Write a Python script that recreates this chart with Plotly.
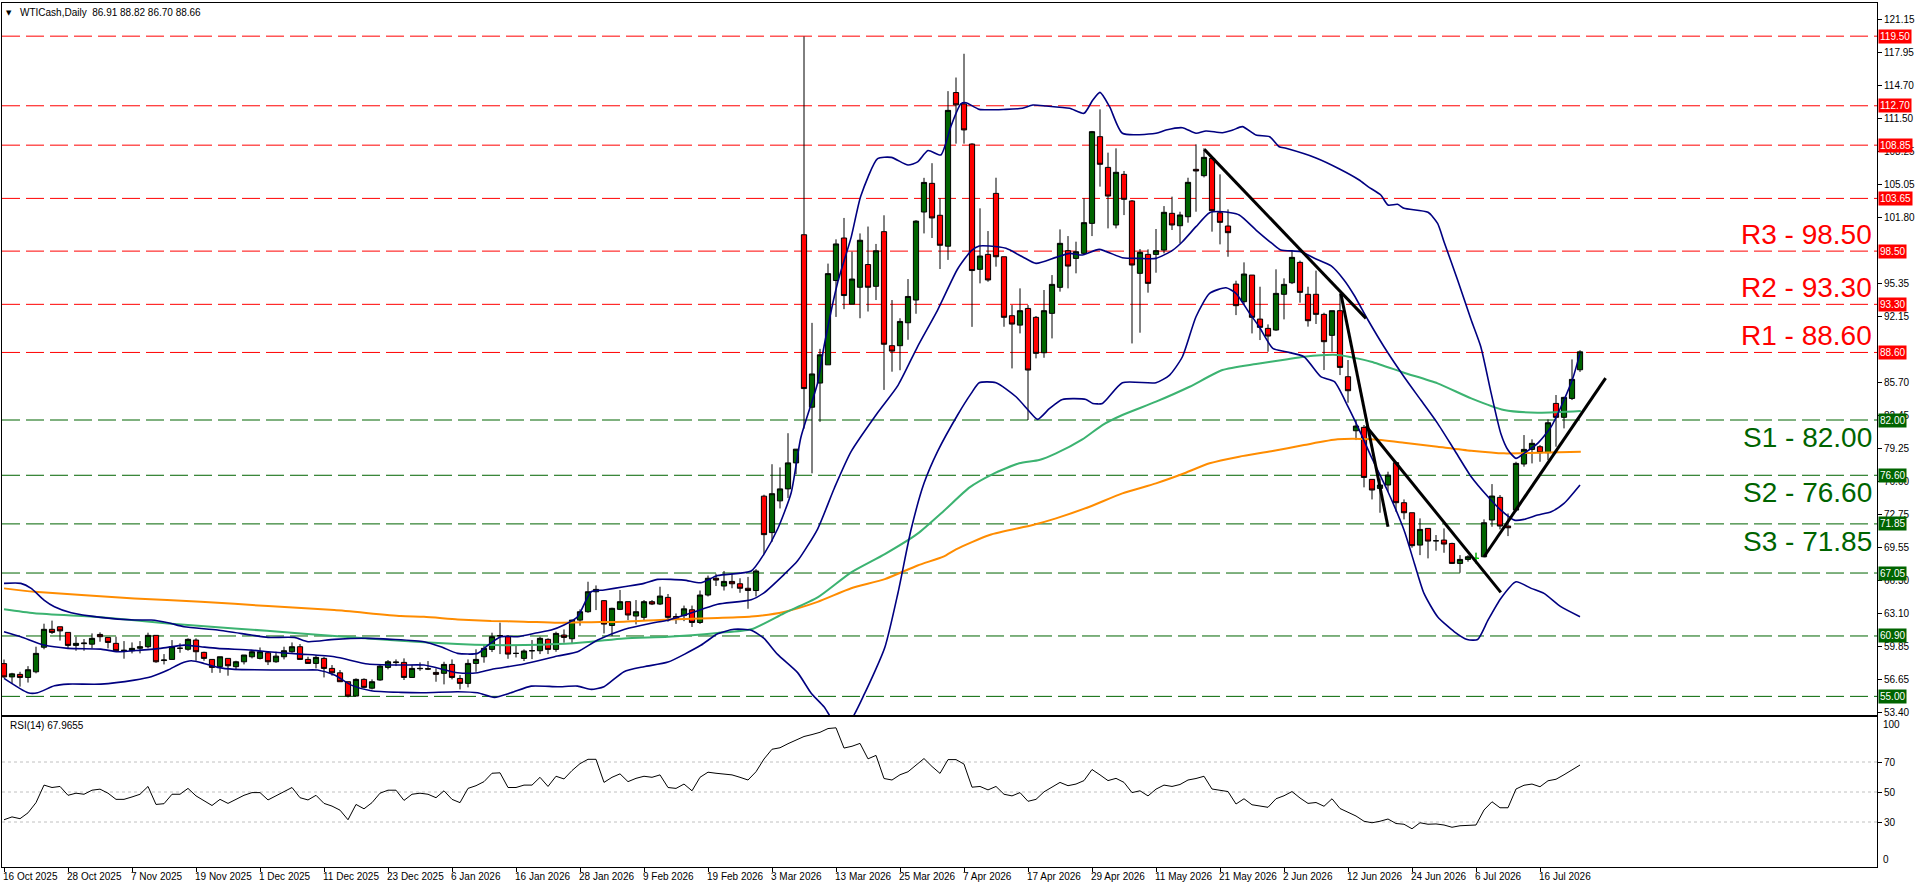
import plotly.graph_objects as go

# ---------------- data ----------------
bars = list(range(198))

opens = [
58.2, 56.9, 57.15, 56.85, 57.4, 59.8, 61.55, 61.8, 61.25, 59.98,
60.15, 60.1, 61.05, 60.76, 60.18, 59.46, 59.46, 59.7, 59.85, 60.96,
58.5, 58.61, 59.7, 59.6, 60.5, 59.3, 58.61, 57.9, 58.71, 57.9,
58.38, 58.87, 58.71, 59.26, 58.38, 58.87, 59.36, 59.85, 58.61, 58.22,
58.71, 57.73, 57.3, 56.43, 55.03, 56.66, 55.8, 56.6, 57.83, 58.3,
58.32, 56.85, 57.7, 57.7, 57.34, 57.25, 58.12, 56.75, 56.27, 58.22,
58.87, 59.59, 60.9, 60.83, 59.2, 58.71, 59.46, 59.46, 60.57, 59.59,
60.99, 60.63, 62.45, 63.27, 65.22, 64.35, 61.93, 63.5, 64.25, 62.85,
62.72, 64.25, 64.02, 64.67, 62.8, 62.89, 63.46, 62.22, 64.9, 66.54,
65.78, 66.23, 66.0, 65.56, 65.34, 74.56, 71.0, 74.1, 75.27, 77.81,
100.1, 83.25, 85.61, 87.39, 95.63, 99.78, 93.32, 94.97, 97.19, 95.06,
100.4, 89.26, 89.26, 91.5, 93.72, 102.32, 105.12, 102.0, 98.98, 113.99,
112.88, 108.96, 96.72, 98.18, 104.14, 97.95, 92.19, 91.27, 92.9, 92.03,
88.57, 92.42, 94.96, 98.54, 97.79, 98.28, 101.21, 109.68, 106.68, 101.05,
106.0, 103.4, 96.33, 98.18, 98.18, 98.6, 102.19, 100.98, 101.86, 106.49,
105.87, 107.56, 102.25, 100.95, 95.28, 93.56, 96.16, 91.86, 90.95, 90.79,
94.28, 95.41, 97.4, 94.28, 94.28, 92.32, 90.27, 92.68, 86.23, 80.95,
81.28, 76.2, 75.32, 75.65, 77.83, 73.92, 72.94, 69.78, 71.41, 70.2,
70.27, 69.94, 67.99, 68.38, 68.48, 68.64, 72.23, 74.44, 71.64, 73.2,
77.7, 79.13, 79.39, 78.81, 83.62, 82.26, 84.11, 86.91]

highs = [
58.6, 57.3, 57.4, 57.95, 59.85, 62.1, 62.4, 61.8, 61.25, 60.83,
60.6, 61.15, 61.25, 60.76, 60.83, 60.4, 60.27, 60.4, 61.22, 60.96,
59.13, 60.5, 60.18, 60.67, 60.67, 59.36, 58.61, 58.87, 58.71, 58.48,
59.04, 59.46, 59.78, 59.36, 59.36, 59.85, 60.27, 60.11, 58.87, 59.04,
58.87, 58.06, 57.57, 56.43, 56.76, 56.76, 56.66, 58.06, 58.55, 58.61,
58.71, 58.06, 58.32, 58.45, 57.73, 58.38, 58.61, 57.08, 58.61, 59.6,
60.11, 61.22, 62.2, 60.99, 59.99, 59.59, 60.5, 60.83, 60.67, 61.32,
61.54, 62.5, 63.5, 66.2, 65.84, 64.41, 63.66, 65.39, 64.25, 64.41,
64.41, 64.41, 65.71, 65.0, 63.1, 63.87, 63.87, 65.34, 66.8, 66.98,
67.25, 66.98, 66.54, 66.67, 67.43, 74.7, 77.68, 77.37, 80.71, 79.15,
119.47, 91.49, 88.95, 97.28, 99.65, 101.74, 98.44, 100.23, 100.9, 99.2,
102.0, 93.72, 91.94, 95.77, 101.52, 105.66, 107.09, 103.65, 114.13, 115.46,
117.78, 109.03, 102.68, 100.46, 105.67, 97.95, 93.23, 94.86, 93.23, 92.16,
94.7, 96.16, 100.62, 99.97, 99.42, 103.66, 110.24, 112.35, 108.12, 108.54,
106.33, 103.49, 98.7, 98.67, 100.66, 102.9, 103.82, 102.35, 105.67, 108.93,
108.54, 107.72, 106.0, 102.58, 95.61, 97.4, 96.16, 95.02, 91.34, 96.72,
95.84, 98.61, 97.57, 95.02, 96.59, 92.48, 92.68, 94.37, 87.86, 81.99,
81.51, 76.2, 76.29, 76.95, 77.92, 74.24, 72.94, 72.39, 71.41, 70.76,
71.41, 70.01, 68.8, 68.8, 69.03, 72.29, 75.74, 74.67, 72.87, 77.92,
80.53, 80.11, 79.55, 82.06, 84.44, 84.27, 87.92, 88.82]

lows = [
56.8, 56.3, 55.95, 56.35, 57.25, 59.6, 61.1, 60.45, 59.65, 59.46,
59.46, 59.7, 60.34, 59.69, 59.46, 58.68, 59.2, 59.2, 59.69, 58.28,
58.12, 58.6, 59.26, 59.46, 58.48, 58.48, 57.3, 57.3, 57.02, 57.57,
58.12, 58.71, 58.61, 58.06, 58.28, 58.61, 59.26, 58.55, 58.22, 57.73,
56.85, 57.02, 56.43, 54.9, 55.03, 55.78, 55.68, 56.53, 57.64, 57.96,
56.6, 56.85, 57.5, 57.57, 56.43, 56.17, 56.66, 55.68, 55.88, 57.4,
58.29, 59.33, 59.13, 58.67, 58.8, 58.45, 58.64, 59.13, 59.13, 59.36,
60.24, 60.11, 61.9, 63.17, 63.43, 61.15, 60.89, 63.43, 62.45, 62.03,
62.45, 63.92, 63.92, 62.3, 62.08, 62.35, 61.78, 62.08, 64.76, 65.78,
65.34, 65.56, 65.12, 63.56, 64.76, 68.9, 70.1, 73.36, 74.38, 76.7,
81.16, 76.79, 81.82, 87.39, 92.07, 92.83, 93.32, 91.94, 92.6, 93.72,
84.94, 86.72, 86.86, 89.84, 92.38, 100.23, 99.78, 96.75, 97.64, 109.0,
109.0, 91.1, 95.35, 95.51, 96.98, 91.11, 87.04, 90.46, 82.0, 88.02,
88.08, 89.97, 94.54, 94.86, 96.33, 98.22, 99.97, 104.8, 100.72, 100.72,
102.02, 89.48, 90.53, 94.44, 96.39, 98.28, 100.56, 99.26, 101.28, 102.35,
105.7, 100.4, 99.16, 97.95, 92.25, 93.23, 90.46, 89.81, 88.67, 90.72,
91.83, 95.28, 93.46, 91.12, 91.38, 86.88, 88.67, 86.39, 83.69, 80.04,
75.42, 74.24, 72.94, 75.0, 73.04, 72.29, 69.52, 68.8, 68.48, 69.23,
69.03, 67.93, 67.08, 68.16, 67.99, 68.58, 71.57, 71.31, 70.66, 73.04,
77.44, 77.76, 77.92, 78.09, 79.39, 81.18, 83.95, 86.70]

closes = [
56.9, 57.2, 56.85, 57.6, 59.2, 61.55, 61.25, 61.4, 59.98, 60.18,
60.2, 60.67, 60.83, 60.27, 59.46, 59.5, 59.69, 59.85, 60.96, 58.38,
58.55, 59.85, 59.7, 60.57, 59.36, 58.71, 57.83, 58.87, 57.99, 58.38,
59.04, 59.36, 59.36, 58.38, 58.93, 59.46, 59.85, 58.61, 58.22, 58.81,
57.73, 57.3, 56.43, 55.03, 56.66, 55.88, 56.43, 57.96, 58.38, 58.35,
56.85, 57.73, 57.73, 57.67, 57.15, 58.12, 56.85, 56.27, 58.22, 58.61,
59.69, 60.83, 60.93, 59.13, 59.2, 59.43, 59.46, 60.67, 59.59, 61.15,
60.76, 62.45, 63.27, 65.22, 65.45, 62.06, 63.6, 64.25, 62.95, 63.27,
64.25, 64.02, 64.8, 62.72, 62.53, 63.55, 62.22, 64.9, 66.54, 66.36,
66.23, 66.0, 65.56, 65.34, 67.25, 70.8, 74.8, 75.27, 77.81, 79.15,
85.07, 86.5, 88.37, 96.3, 99.2, 94.16, 95.77, 99.56, 94.97, 98.53,
89.4, 88.73, 91.63, 94.07, 101.43, 105.21, 101.74, 99.07, 112.25, 112.79,
110.34, 96.6, 98.02, 95.68, 97.95, 92.03, 91.37, 92.68, 86.88, 88.51,
92.68, 95.25, 99.26, 97.04, 98.44, 101.28, 110.17, 106.98, 103.88, 106.2,
103.56, 97.14, 98.38, 95.35, 98.54, 102.29, 101.05, 102.03, 105.22, 106.33,
107.66, 102.45, 101.31, 100.3, 93.17, 96.26, 92.03, 91.05, 90.2, 94.37,
95.25, 97.89, 94.47, 91.7, 92.32, 89.65, 92.68, 87.14, 84.86, 81.41,
76.39, 75.16, 75.65, 76.62, 73.92, 72.94, 69.72, 71.31, 70.17, 70.2,
69.88, 67.99, 68.38, 68.64, 68.48, 71.96, 74.57, 71.64, 71.47, 77.76,
79.13, 79.72, 78.81, 81.73, 82.26, 84.21, 85.97, 88.66]

rsi = [
31.5, 33.4, 32.2, 36.1, 42.9, 54.6, 53.0, 53.7, 47.8, 49.2,
48.5, 51.2, 51.9, 49.2, 45.1, 45.1, 46.7, 48.5, 53.7, 41.7,
42.2, 48.5, 48.5, 52.4, 47.4, 44.0, 41.0, 45.1, 42.4, 45.1,
47.8, 49.6, 49.6, 44.7, 47.4, 50.3, 53.0, 46.2, 44.7, 47.8,
42.4, 40.6, 37.9, 31.5, 41.7, 38.8, 42.9, 49.2, 51.2, 51.2,
44.4, 48.5, 49.2, 48.5, 46.2, 50.8, 45.1, 42.9, 52.4, 54.2,
56.9, 62.5, 62.8, 53.0, 53.0, 54.6, 54.6, 59.8, 53.7, 60.5,
58.7, 64.3, 68.9, 71.8, 71.8, 56.4, 59.8, 62.1, 56.9, 59.1,
60.5, 59.8, 61.4, 53.0, 52.4, 55.3, 50.8, 59.8, 63.2, 62.5,
62.1, 61.4, 59.8, 58.0, 63.5, 72.0, 78.5, 79.5, 82.2, 84.5,
87.0, 88.3, 89.8, 92.3, 92.8, 79.3, 80.5, 82.4, 72.1, 74.4,
59.0, 58.0, 61.5, 63.5, 68.2, 72.3, 67.0, 62.4, 71.6, 71.6,
68.6, 53.2, 53.7, 51.4, 53.7, 48.5, 47.4, 49.6, 43.8, 45.1,
50.1, 53.5, 56.4, 54.2, 55.3, 57.6, 65.0, 61.4, 57.6, 59.1,
56.4, 49.6, 50.8, 47.4, 51.9, 54.6, 53.7, 55.0, 58.0, 59.0,
60.5, 52.0, 51.0, 50.3, 42.0, 45.5, 41.5, 40.5, 39.8, 45.5,
47.5, 50.3, 46.0, 42.4, 43.0, 40.5, 45.5, 39.0, 36.5, 34.0,
30.5, 29.5, 30.5, 32.0, 29.0, 28.5, 25.5, 29.5, 28.5, 28.7,
28.0, 26.5, 27.5, 28.0, 28.0, 38.0, 43.5, 39.5, 39.5, 52.0,
54.5, 55.3, 53.5, 57.5, 58.5, 61.5, 64.5, 67.97]

# Bollinger bands (read at sampled bar positions)
bb_up_x = [0, 2.1, 3.4, 5.0, 6.3, 8.4, 12.1, 16.3, 18.4, 20.5, 22.5, 26.7, 30.9, 33.0, 36.3, 38.0, 41.3, 45.5,
           48.4, 52.5, 54.6, 56.7, 59.2, 60.5, 62.1, 64.2, 66.7, 68.4, 70.0, 71.7, 73.4, 75.0, 77.5, 80.0, 81.7,
           85.0, 87.1, 89.2, 93.4, 95.0, 96.7, 98.4, 99.6, 101.7, 102.5, 104.2, 105.9, 107.1, 109.2, 110.9, 113.0,
           114.2, 115.5, 117.1, 118.4, 119.6, 120.25, 121.9, 125.25, 127.3, 128.6, 130.25, 133.2, 135.0, 136.1,
           137.0, 138.2, 139.8, 144.0, 145.25, 147.3, 149.0, 150.25, 152.3, 153.6, 154.8, 156.5, 158.2, 159.4,
           160.25, 164.0, 167.0, 169.4, 170.5, 172.1, 173.0, 174.2, 175.0, 178.0, 179.2, 180.0, 181.7, 183.4,
           184.6, 185.9, 187.1, 188.0, 189.0, 190.0, 191.7, 193.4, 195.0, 196.1, 197.0]
bb_up_y = [66.04, 66.04, 65.55, 64.41, 63.76, 63.17, 62.72, 62.46, 62.46, 62.2, 61.8, 61.48, 60.99, 60.76, 60.76,
           60.34, 60.57, 60.67, 60.57, 60.34, 59.85, 59.2, 59.2, 60.01, 60.83, 60.83, 61.22, 61.48, 61.97, 62.78,
           65.22, 65.39, 65.71, 66.04, 66.43, 66.36, 66.1, 66.8, 67.25, 68.9, 71.35, 74.9, 80.27, 85.61, 89.18,
           95.41, 99.87, 103.88, 107.53, 107.66, 106.91, 107.22, 108.33, 107.89, 110.78, 112.88, 113.0, 112.35,
           112.35, 112.45, 112.77, 112.68, 112.45, 111.96, 113.26, 114.01, 112.61, 110.01, 110.01, 110.33, 110.56,
           110.01, 110.24, 110.07, 110.33, 110.66, 109.84, 109.68, 108.7, 108.54, 107.6, 106.5, 105.45, 104.8,
           103.98, 103.0, 103.07, 102.68, 102.29, 101.21, 99.42, 95.68, 91.77, 89.16, 84.6, 80.69, 79.07, 78.25,
           78.74, 79.72, 81.35, 83.95, 86.07, 88.51]

bb_mid_x = [0, 2.1, 5.0, 8.0, 12.1, 14.2, 17.1, 19.6, 22.5, 24.6, 26.7, 30.9, 33.0, 37.1, 41.3, 45.5, 49.6, 52.5,
            56.7, 59.2, 60.9, 65.0, 69.2, 71.7, 74.2, 77.5, 80.9, 83.0, 87.1, 89.2, 93.4, 95.0, 97.5, 99.2, 101.7,
            103.8, 105.9, 109.2, 111.75, 114.2, 116.7, 119.2, 120.9, 121.9, 123.2, 125.25, 127.3, 129.0, 131.5,
            133.2, 134.8, 136.9, 139.8, 141.9, 144.0, 146.1, 147.3, 149.0, 150.7, 152.3, 154.4, 156.5, 158.5,
            159.6, 162.1, 163.8, 165.9, 167.5, 168.75, 170.5, 172.5, 175.0, 177.1, 179.2, 181.3, 183.4, 185.5,
            187.1, 188.8, 190.0, 191.7, 193.4, 195.0, 197.0]
bb_mid_y = [61.32, 60.83, 60.01, 59.69, 59.62, 59.36, 59.52, 59.69, 60.01, 59.85, 59.69, 59.52, 59.36, 59.13,
            58.87, 58.16, 58.06, 58.06, 57.31, 57.31, 57.63, 58.16, 58.94, 59.36, 60.5, 61.54, 62.15, 62.44, 63.47,
            64.0, 64.45, 65.12, 66.9, 68.24, 71.35, 75.36, 78.93, 82.71, 85.39, 89.18, 92.74, 96.75, 98.53, 99.0,
            99.0, 98.77, 97.95, 97.3, 97.89, 98.28, 98.12, 98.67, 97.85, 97.79, 97.79, 98.6, 99.42, 100.89, 102.25,
            102.35, 102.03, 100.56, 99.25, 98.61, 98.45, 97.8, 97.05, 95.68, 94.21, 91.77, 89.16, 86.23, 83.95,
            81.67, 79.07, 76.46, 74.5, 73.2, 72.22, 72.29, 72.71, 73.04, 73.85, 75.65]

bb_low_x = [0, 3.0, 4.2, 6.3, 8.0, 12.1, 16.3, 18.4, 20.5, 22.1, 23.4, 25.0, 26.7, 28.8, 37.1, 39.2, 41.3, 43.4,
            45.9, 49.6, 52.5, 56.7, 59.2, 61.3, 63.4, 65.9, 69.2, 71.7, 73.4, 75.0, 77.5, 80.0, 83.0, 87.1, 89.2,
            91.25, 93.4, 95.0, 96.7, 99.2, 100.9, 102.5, 104.0, 105.5, 107.6, 110.1, 111.75, 113.4, 115.0, 116.7,
            119.2, 120.9, 121.9, 124.0, 126.5, 128.2, 129.2, 130.7, 132.3, 135.25, 136.1, 137.3, 139.8, 144.0,
            145.7, 147.3, 149.0, 150.7, 152.75, 154.0, 155.7, 156.9, 158.6, 160.25, 162.5, 164.6, 166.3, 168.0,
            169.6, 170.9, 172.9, 175.0, 176.3, 177.5, 179.2, 181.3, 182.9, 184.2, 185.5, 187.1, 189.0, 190.9,
            192.5, 194.6, 197.0]
bb_low_y = [56.75, 55.35, 55.35, 56.04, 56.2, 56.2, 56.59, 56.92, 57.57, 58.22, 58.48, 58.22, 57.83, 57.64, 57.57,
            57.57, 57.08, 56.1, 55.55, 55.39, 55.35, 55.45, 55.35, 54.9, 55.35, 56.0, 55.94, 56.0, 55.68, 55.94,
            57.41, 57.9, 58.35, 59.99, 61.11, 61.55, 61.46, 60.66, 59.1, 57.32, 55.31, 53.98, 52.3, 52.3, 55.31,
            59.77, 65.12, 71.35, 75.81, 78.93, 82.49, 84.6, 85.64, 85.64, 84.27, 82.81, 82.06, 83.13, 84.01, 84.01,
            83.62, 83.62, 85.64, 85.64, 86.39, 88.18, 92.09, 94.37, 94.92, 94.37, 92.42, 91.11, 89.0, 88.67, 88.18,
            86.23, 85.74, 83.3, 80.69, 78.41, 75.16, 71.25, 67.99, 65.06, 62.78, 61.31, 60.56, 60.56, 62.45, 64.57,
            66.2, 65.55, 65.06, 63.76, 62.78]

# moving averages (green = faster, orange = slower)
ma_green_x = [0, 3.8, 12.1, 20.5, 28.8, 37.1, 41.3, 49.6, 56.7, 60.9, 65.0, 69.2, 73.4, 77.5, 83.0, 89.2, 93.4,
              97.5, 101.7, 105.9, 110.1, 114.2, 117.5, 120.7, 123.6, 126.9, 129.4, 131.5, 134.8, 137.3, 139.8,
              144.0, 148.2, 152.3, 156.5, 160.25, 162.5, 166.7, 170.9, 175.0, 179.2, 183.4, 187.5, 191.7, 197.1]
ma_green_y = [63.5, 63.11, 62.72, 62.13, 61.64, 61.15, 60.89, 60.44, 60.11, 60.01, 60.01, 60.11, 60.34, 60.66,
              60.83, 61.2, 61.55, 63.12, 64.67, 67.12, 68.9, 70.9, 73.14, 75.42, 76.72, 77.77, 78.09, 78.74, 80.11,
              81.51, 82.49, 83.79, 85.25, 86.88, 87.47, 87.92, 88.18, 88.35, 87.7, 86.62, 85.58, 84.11, 82.97,
              82.71, 82.87]
ma_orange_x = [0, 3.8, 16.3, 24.6, 33.0, 41.3, 49.6, 52.5, 56.7, 60.9, 65.0, 69.2, 73.4, 77.5, 83.0, 89.2, 93.4,
               97.5, 101.7, 105.9, 110.1, 114.2, 117.5, 119.0, 123.2, 128.6, 131.5, 135.7, 139.8, 144.0, 147.3,
               150.7, 154.4, 158.4, 162.5, 166.7, 170.9, 175.0, 179.2, 183.4, 187.5, 191.7, 197.1]
ma_orange_y = [65.55, 65.22, 64.57, 64.25, 63.82, 63.43, 62.85, 62.78, 62.52, 62.36, 62.3, 62.19, 62.25, 62.3,
               62.52, 62.66, 62.8, 63.25, 64.23, 65.56, 66.45, 67.79, 68.68, 69.36, 70.76, 71.74, 72.39, 73.53,
               74.83, 75.81, 76.72, 77.77, 78.42, 78.95, 79.55, 80.11, 80.11, 79.78, 79.39, 79.0, 78.74, 78.8, 78.9]

# drawn trendlines: (bar0, price0, bar1, price1)
trend_x0 = [150.04, 167.1, 170.25, 185.0]
trend_y0 = [108.44, 94.37, 81.41, 68.64]
trend_x1 = [170.25, 173.0, 187.1, 200.2]
trend_y1 = [91.93, 71.57, 65.16, 86.1]

resistance_levels = [119.50, 112.70, 108.85, 103.65, 98.50, 93.30, 88.60]
support_levels = [82.00, 76.60, 71.85, 67.05, 60.90, 55.00]
r_names = ["R3", "R2", "R1"]
r_values = [98.50, 93.30, 88.60]
s_names = ["S1", "S2", "S3"]
s_values = [82.00, 76.60, 71.85]

# visible price-scale labels (98.55 and 88.90 are fully hidden by level boxes in the reference)
price_ticks = [121.15, 117.95, 114.70, 111.50, 108.25, 105.05, 101.80, 95.35, 92.15, 85.70,
               82.45, 79.25, 76.00, 72.75, 69.55, 66.30, 63.10, 59.85, 56.65, 53.40]
rsi_ticks = [30, 50, 70]
rsi_levels = [30, 50, 70]

date_labels = ["16 Oct 2025", "28 Oct 2025", "7 Nov 2025", "19 Nov 2025", "1 Dec 2025", "11 Dec 2025",
               "23 Dec 2025", "6 Jan 2026", "16 Jan 2026", "28 Jan 2026", "9 Feb 2026", "19 Feb 2026",
               "3 Mar 2026", "13 Mar 2026", "25 Mar 2026", "7 Apr 2026", "17 Apr 2026", "29 Apr 2026",
               "11 May 2026", "21 May 2026", "2 Jun 2026", "12 Jun 2026", "24 Jun 2026", "6 Jul 2026",
               "16 Jul 2026"]
date_ticks = [8 * k for k in range(len(date_labels))]

doji_bar = 184
header = "WTICash,Daily  86.91 88.82 86.70 88.66"
rsi_title = "RSI(14) 67.9655"

# ---------------- styling ----------------
FONT = "Liberation Sans"
RED = "#FF0000"
DGREEN = "#006400"
BULL = "#006400"
NAVY = "#000080"
MA_GREEN = "#3CB371"
MA_ORANGE = "#FF8C00"

fig = go.Figure()

fig.add_trace(go.Candlestick(
    x=bars, open=opens, high=highs, low=lows, close=closes,
    xaxis="x", yaxis="y", whiskerwidth=0,
    increasing=dict(fillcolor=BULL, line=dict(color="black", width=1)),
    decreasing=dict(fillcolor=RED, line=dict(color="black", width=1)),
    hoverinfo="skip", showlegend=False))

# lime doji marker (MT4 draws open==close bars in line colour)
fig.add_trace(go.Scatter(
    x=[doji_bar, doji_bar, None, doji_bar - 0.35, doji_bar + 0.35],
    y=[lows[doji_bar], highs[doji_bar], None, closes[doji_bar], closes[doji_bar]],
    mode="lines", line=dict(color="#00FF00", width=1), xaxis="x", yaxis="y",
    hoverinfo="skip", showlegend=False))

for xs, ys, col, w in [(ma_orange_x, ma_orange_y, MA_ORANGE, 2),
                       (ma_green_x, ma_green_y, MA_GREEN, 2),
                       (bb_up_x, bb_up_y, NAVY, 1.6),
                       (bb_mid_x, bb_mid_y, NAVY, 1.6),
                       (bb_low_x, bb_low_y, NAVY, 1.6)]:
    fig.add_trace(go.Scatter(x=xs, y=ys, mode="lines", line=dict(color=col, width=w, shape="spline", smoothing=0.6),
                             xaxis="x", yaxis="y", hoverinfo="skip", showlegend=False))

for a, b, c, d in zip(trend_x0, trend_y0, trend_x1, trend_y1):
    fig.add_trace(go.Scatter(x=[a, c], y=[b, d], mode="lines", line=dict(color="black", width=3),
                             xaxis="x", yaxis="y", hoverinfo="skip", showlegend=False))

fig.add_trace(go.Scatter(x=bars, y=rsi, mode="lines", line=dict(color="black", width=1),
                         xaxis="x2", yaxis="y2", hoverinfo="skip", showlegend=False))

shapes = []
for lv in resistance_levels:
    shapes.append(dict(type="line", xref="paper", x0=0, x1=1, yref="y", y0=lv, y1=lv,
                       line=dict(color=RED, width=1, dash="18px,6px"), layer="below"))
for lv in support_levels:
    shapes.append(dict(type="line", xref="paper", x0=0, x1=1, yref="y", y0=lv, y1=lv,
                       line=dict(color=DGREEN, width=1, dash="18px,6px"), layer="below"))
for lv in rsi_levels:
    shapes.append(dict(type="line", xref="paper", x0=0, x1=1, yref="y2", y0=lv, y1=lv,
                       line=dict(color="#C0C0C0", width=1, dash="3px,3px"), layer="below"))

ann = []
for lv in resistance_levels:
    ann.append(dict(xref="paper", x=1, xanchor="left", xshift=1, yref="y", y=lv, yanchor="middle",
                    text=f"{lv:.2f}", showarrow=False, bgcolor=RED, borderpad=1,
                    font=dict(family=FONT, size=10, color="white")))
for lv in support_levels:
    ann.append(dict(xref="paper", x=1, xanchor="left", xshift=1, yref="y", y=lv, yanchor="middle",
                    text=f"{lv:.2f}", showarrow=False, bgcolor=DGREEN, borderpad=1,
                    font=dict(family=FONT, size=10, color="white")))
for n, v in zip(r_names, r_values):
    ann.append(dict(xref="paper", x=1, xanchor="right", xshift=-3, yref="y", y=v, yanchor="bottom", yshift=-1,
                    text=f"{n} - {v:.2f}", showarrow=False, font=dict(family=FONT, size=28, color=RED)))
for n, v in zip(s_names, s_values):
    ann.append(dict(xref="paper", x=1, xanchor="right", xshift=-3, yref="y", y=v, yanchor="top", yshift=0,
                    text=f"{n} - {v:.2f}", showarrow=False, font=dict(family=FONT, size=28, color=DGREEN)))
ann.append(dict(xref="paper", x=0.0012, xanchor="left", yref="paper", y=1, yanchor="top", yshift=-4,
                text="▼", showarrow=False, font=dict(family="DejaVu Sans", size=7, color="black")))
ann.append(dict(xref="paper", x=0.0085, xanchor="left", yref="paper", y=1, yanchor="top", yshift=-2,
                text=header, showarrow=False, font=dict(family=FONT, size=10, color="black")))
ann.append(dict(xref="paper", x=0.003, xanchor="left", yref="y2", y=100, yanchor="top", yshift=-1,
                text=rsi_title, showarrow=False, font=dict(family=FONT, size=10, color="black")))
ann.append(dict(xref="paper", x=1, xanchor="left", xshift=4, yref="y2", y=100, yanchor="top", yshift=0,
                text="100", showarrow=False, font=dict(family=FONT, size=10, color="black")))
ann.append(dict(xref="paper", x=1, xanchor="left", xshift=4, yref="y2", y=0, yanchor="bottom", yshift=0,
                text="0", showarrow=False, font=dict(family=FONT, size=10, color="black")))
# date labels, left-aligned at their tick (MT4 style)
for t, lab in zip(date_ticks, date_labels):
    ann.append(dict(xref="x2", x=t, xanchor="left", xshift=-2, yref="paper", y=0, yanchor="top", yshift=-3,
                    text=lab, showarrow=False, borderpad=0, font=dict(family=FONT, size=10, color="black")))

xr = [-0.25, 234.125]
tick_font = dict(family=FONT, size=10, color="black")
fig.update_layout(
    width=1916, height=888,
    margin=dict(l=2, r=39, t=3, b=21, autoexpand=False),
    paper_bgcolor="white", plot_bgcolor="white",
    showlegend=False, boxgap=0.35, boxgroupgap=0,
    xaxis=dict(domain=[0, 1], range=xr, anchor="y", showticklabels=False, ticks="",
               showline=True, mirror=True, linecolor="black", linewidth=1,
               showgrid=False, zeroline=False, rangeslider=dict(visible=False), fixedrange=True),
    xaxis2=dict(domain=[0, 1], range=xr, anchor="y2", tickmode="array", tickvals=date_ticks,
                showticklabels=False, ticks="outside", ticklen=4, tickcolor="black",
                showline=True, mirror=True, linecolor="black", linewidth=1,
                showgrid=False, zeroline=False),
    yaxis=dict(domain=[0.17593, 1], range=[53.18, 122.74], side="right", anchor="x",
               tickmode="array", tickvals=price_ticks, ticktext=[f"{t:.2f}" for t in price_ticks],
               ticks="outside", ticklen=4, tickcolor="black", tickfont=tick_font,
               showline=True, mirror=True, linecolor="black", linewidth=1,
               showgrid=False, zeroline=False, automargin=False),
    yaxis2=dict(domain=[0, 0.17361], range=[0, 100], side="right", anchor="x2",
                tickmode="array", tickvals=rsi_ticks, ticks="outside", ticklen=4, tickcolor="black",
                tickfont=tick_font, showline=True, mirror=True, linecolor="black", linewidth=1,
                showgrid=False, zeroline=False, automargin=False),
    shapes=shapes, annotations=ann,
)

fig.write_html("out.html", config={"displayModeBar": False},
               post_script="document.body.style.margin='0';document.body.style.overflow='hidden';"
                           "document.documentElement.style.overflow='hidden';")
